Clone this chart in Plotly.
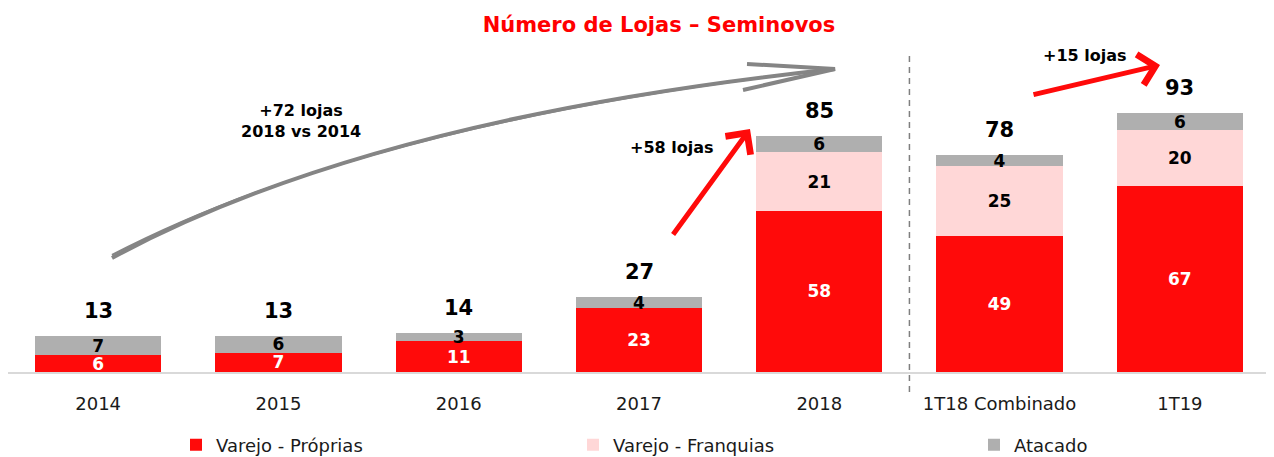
import plotly.graph_objects as go

# data
categories = ['2014', '2015', '2016', '2017', '2018', '1T18 Combinado', '1T19']
proprias = [6, 7, 11, 23, 58, 49, 67]
franquias = [0, 0, 0, 0, 21, 25, 20]
atacado = [7, 6, 3, 4, 6, 4, 6]
totals = [p + f + a for p, f, a in zip(proprias, franquias, atacado)]

FONT = 'DejaVu Sans'
OFF = 8  # page body margin
W, H = 1266, 449
ML, MR, MT, MB = 0, 4, 52, 85
PW, PH = W - ML - MR, H - MT - MB
BASE = MT + PH + OFF  # baseline, in page pixels


def px(x):
    # page pixel -> paper fraction
    return (x - OFF - ML) / PW


def py(y):
    return (BASE - y) / PH


def labels(vals):
    return [str(v) if v else '' for v in vals]


fig = go.Figure()

series = [
    ('Varejo - Próprias', proprias, '#ff0a0a', 'white', 'legend', 176),
    ('Varejo - Franquias', franquias, '#ffd7d7', 'black', 'legend2', 573),
    ('Atacado', atacado, '#afafaf', 'black', 'legend3', 974),
]
for name, vals, color, tcolor, leg, _ in series:
    fig.add_trace(go.Bar(
        x=categories, y=vals, name=name, legend=leg,
        marker=dict(color=color, line=dict(width=0)),
        text=labels(vals), texttemplate='<b>%{text}</b>',
        textposition='inside', insidetextanchor='middle', textangle=0,
        textfont=dict(family=FONT, size=17, color=tcolor),
        hoverinfo='skip'
    ))

# totals above bars
for i, tot in enumerate(totals):
    fig.add_annotation(x=i, y=tot, text=f'<b>{tot}</b>', showarrow=False,
                       yanchor='bottom', yshift=11,
                       font=dict(family=FONT, size=21, color='black'))

# dashed separator
fig.add_shape(type='line', xref='x', yref='paper', x0=4.5, x1=4.5,
              y0=py(392), y1=py(52),
              line=dict(color='#7f7f7f', width=1.5, dash='6px,5px'))

# gray curved arrow 2014 -> 2018 (sketchy double stroke)
for dy, w in [(0, 4), (3, 2)]:
    fig.add_shape(type='path', xref='paper', yref='paper',
                  path=f'M {px(112)},{py(258 - dy)} Q {px(370)},{py(118 + dy)} {px(835)},{py(69)}',
                  line=dict(color='#858585', width=w))
fig.add_shape(type='path', xref='paper', yref='paper',
              path=f'M {px(747)},{py(64)} L {px(835)},{py(69)} L {px(743)},{py(90)}',
              line=dict(color='#858585', width=4))


def note(x, y, text):
    fig.add_annotation(xref='paper', yref='paper', x=px(x), y=py(y), text=text,
                       showarrow=False, xanchor='center', yanchor='middle',
                       font=dict(family=FONT, size=16, color='black'))


note(301, 121, '<b>+72 lojas<br>2018 vs 2014</b>')
note(672, 147, '<b>+58 lojas</b>')
note(1085, 55, '<b>+15 lojas</b>')

# red arrows
fig.add_annotation(xref='paper', yref='paper', x=px(750), y=py(129), text='',
                   showarrow=True, ax=-78, ay=107, arrowcolor='#ff0a0a',
                   arrowwidth=5, arrowhead=4, arrowsize=1.2)
fig.add_annotation(xref='paper', yref='paper', x=px(1160), y=py(65), text='',
                   showarrow=True, ax=-128, ay=30, arrowcolor='#ff0a0a',
                   arrowwidth=5, arrowhead=4, arrowsize=1.2)

legend_style = dict(orientation='h', xanchor='left', y=py(445), yanchor='middle',
                    font=dict(family=FONT, size=18, color='#1a1a1a'),
                    bgcolor='rgba(0,0,0,0)')
legends = {leg: dict(legend_style, x=px(lx)) for _, _, _, _, leg, lx in series}

fig.update_layout(
    width=W, height=H,
    margin=dict(l=ML, r=MR, t=MT, b=MB, autoexpand=False),
    barmode='stack', bargap=0.3,
    plot_bgcolor='white', paper_bgcolor='white',
    title=dict(text='<b>Número de Lojas – Seminovos</b>', x=(659 - OFF) / W, xanchor='center',
               y=1 - (25 - OFF) / H, yanchor='middle',
               font=dict(family=FONT, size=21, color='#ff0000')),
    font=dict(family=FONT, size=18, color='#1a1a1a'),
    uniformtext=dict(minsize=17, mode='show'),
    showlegend=True,
    xaxis=dict(type='category', showline=True, linecolor='#d9d9d9', linewidth=2,
               showgrid=False, ticks='', ticklabelstandoff=14,
               tickfont=dict(family=FONT, size=18, color='#1a1a1a'),
               range=[-0.5, 6.5], fixedrange=True),
    yaxis=dict(visible=False, range=[0, PH / 2.78], fixedrange=True),
    **legends,
)

fig.write_html('out.html')
